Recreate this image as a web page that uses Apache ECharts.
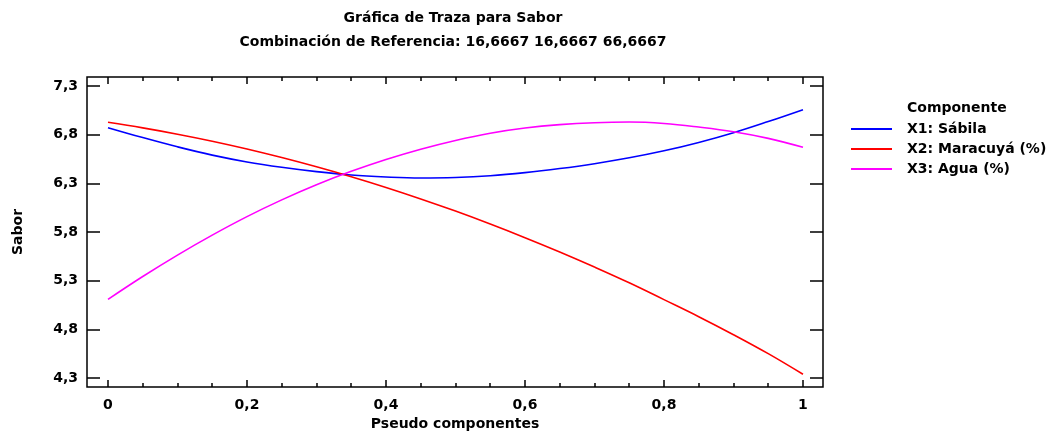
<!DOCTYPE html>
<html>
<head>
<meta charset="utf-8">
<script src="https://cdn.jsdelivr.net/npm/echarts@6/dist/echarts.min.js"></script>
<style>
  html, body { margin: 0; padding: 0; background: #fff; }
  #chart { width: 1056px; height: 432px; }
</style>
</head>
<body>
<div id="chart"></div>
<script>
// Pseudo-component proportion along each trace
const pseudo = [0, 0.05, 0.1, 0.15, 0.2, 0.25, 0.3, 0.35, 0.4, 0.45, 0.5,
                0.55, 0.6, 0.65, 0.7, 0.75, 0.8, 0.85, 0.9, 0.95, 1];

// Predicted Sabor for each component trace
const sabila   = [6.872, 6.77, 6.675, 6.59, 6.52, 6.465, 6.42, 6.385, 6.365, 6.355, 6.36,
                  6.378, 6.41, 6.452, 6.502, 6.562, 6.634, 6.72, 6.82, 6.935, 7.057];
const maracuya = [6.927, 6.870, 6.805, 6.733, 6.653, 6.565, 6.47, 6.368, 6.258, 6.14, 6.015,
                  5.882, 5.742, 5.595, 5.44, 5.278, 5.105, 4.93, 4.745, 4.55, 4.338];
const agua     = [5.108, 5.343, 5.563, 5.768, 5.958, 6.130, 6.285, 6.423, 6.545, 6.651, 6.741,
                  6.815, 6.868, 6.903, 6.923, 6.93, 6.915, 6.878, 6.830, 6.762, 6.67];

const seriesNames = ['X1: Sábila', 'X2: Maracuyá (%)', 'X3: Agua (%)'];
const seriesColors = ['#0000ff', '#ff0000', '#ff00ff'];

// Tick positions
const xMajorTicks = [0, 0.2, 0.4, 0.6, 0.8, 1];
const xMinorTicks = [0.05, 0.1, 0.15, 0.25, 0.3, 0.35, 0.45, 0.5, 0.55,
                     0.65, 0.7, 0.75, 0.85, 0.9, 0.95];
const yTicks = [4.3, 4.8, 5.3, 5.8, 6.3, 6.8, 7.3];

const X_MIN = -0.0302, X_MAX = 1.0288;
const Y_MIN = 4.2075, Y_MAX = 7.3925;

const FONT = 'DejaVu Sans, Verdana, sans-serif';
const FS = 14;
const comma = v => String(+v.toFixed(4)).replace('.', ',');
const textStyle = { color: '#000', fontFamily: FONT, fontWeight: 'bold', fontSize: FS };

const pairs = ys => pseudo.map((x, i) => [x, ys[i]]);

function xAxisDef(position, ticks, len, withLabel) {
  return {
    type: 'value', position: position, min: X_MIN, max: X_MAX,
    axisLine: { show: false, onZero: false },
    splitLine: { show: false },
    axisTick: { show: true, inside: true, length: len, customValues: ticks,
                lineStyle: { color: '#000', width: 1.5 } },
    axisLabel: withLabel ? Object.assign({
      show: true, customValues: ticks, formatter: comma, margin: 11
    }, textStyle) : { show: false }
  };
}

function yAxisDef(position, withLabel) {
  return {
    type: 'value', position: position, min: Y_MIN, max: Y_MAX,
    axisLine: { show: false, onZero: false },
    splitLine: { show: false },
    axisTick: { show: true, inside: true, length: 13, customValues: yTicks,
                lineStyle: { color: '#000', width: 1.5 } },
    axisLabel: withLabel ? Object.assign({
      show: true, customValues: yTicks, formatter: comma, margin: 9
    }, textStyle) : { show: false }
  };
}

const chart = echarts.init(document.getElementById('chart'), null, { renderer: 'canvas' });

const xBottom = xAxisDef('bottom', xMajorTicks, 7, true);
xBottom.name = 'Pseudo componentes';
xBottom.nameLocation = 'middle';
xBottom.nameGap = 30;
xBottom.nameTextStyle = textStyle;

const yLeft = yAxisDef('left', true);
yLeft.name = 'Sabor';
yLeft.nameLocation = 'middle';
yLeft.nameRotate = 90;
yLeft.nameGap = 62;
yLeft.nameTextStyle = textStyle;

chart.setOption({
  animation: false,
  backgroundColor: '#fff',
  title: {
    text: 'Gráfica de Traza para Sabor',
    subtext: 'Combinación de Referencia: 16,6667 16,6667 66,6667',
    left: 453, textAlign: 'center', top: 11, itemGap: 10, padding: 0,
    textStyle: textStyle,
    subtextStyle: textStyle
  },
  legend: {
    orient: 'vertical', left: 851, top: 122, itemGap: 6, padding: 0,
    itemWidth: 41, itemHeight: 2, icon: 'rect',
    selectedMode: false,
    textStyle: Object.assign({ padding: [0, 0, 0, 10] }, textStyle),
    data: seriesNames
  },
  graphic: [{
    type: 'text', left: 907, top: 101,
    style: { text: 'Componente', fill: '#000', font: 'bold ' + FS + 'px ' + FONT }
  }],
  grid: {
    left: 87, right: 233, top: 77, bottom: 45,
    containLabel: false, outerBoundsMode: 'none',
    show: true, borderColor: '#000', borderWidth: 1.5, backgroundColor: 'transparent'
  },
  xAxis: [
    xBottom,
    xAxisDef('bottom', xMinorTicks, 4, false),
    xAxisDef('top', xMajorTicks, 7, false),
    xAxisDef('top', xMinorTicks, 4, false)
  ],
  yAxis: [yLeft, yAxisDef('right', false)],
  series: [sabila, maracuya, agua].map((ys, i) => ({
    name: seriesNames[i],
    type: 'line',
    xAxisIndex: 0, yAxisIndex: 0,
    data: pairs(ys),
    smooth: 0.4,
    showSymbol: false,
    symbol: 'none',
    lineStyle: { color: seriesColors[i], width: 1.6 },
    itemStyle: { color: seriesColors[i] }
  }))
});
</script>
</body>
</html>
